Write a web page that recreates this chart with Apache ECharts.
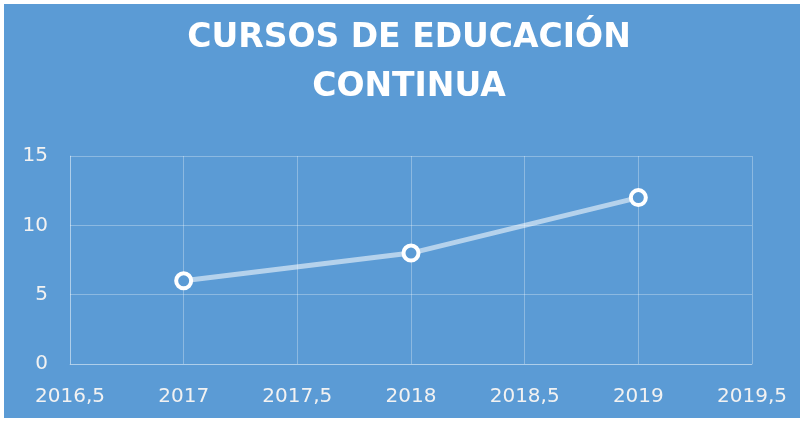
<!DOCTYPE html>
<html>
<head>
<meta charset="utf-8">
<script src="https://cdn.jsdelivr.net/npm/echarts@6/dist/echarts.min.js"></script>
<style>
  html, body { margin: 0; padding: 0; background: #fff; }
  #chart { position: absolute; left: 4px; top: 4px; width: 796px; height: 414px; }
</style>
</head>
<body>
<div id="chart"></div>
<script>
// data
const years = [2017, 2018, 2019];
const courses = [6, 8, 12];
const titleText = 'CURSOS DE EDUCACIÓN\nCONTINUA';

const fmt = v => String(v).replace('.', ',');
const gridColor = 'rgba(255,255,255,0.3)';

const chart = echarts.init(document.getElementById('chart'));
chart.setOption({
  backgroundColor: '#5b9bd5',
  animation: false,
  title: {
    text: titleText,
    left: 400,
    textAlign: 'center',
    top: 5,
    textStyle: {
      color: '#fff',
      fontFamily: 'DejaVu Sans',
      fontWeight: 'bold',
      fontSize: 33,
      lineHeight: 49,
    },
  },
  grid: { left: 66, right: 48, top: 152, bottom: 54 },
  xAxis: {
    type: 'value',
    min: 2016.5,
    max: 2019.5,
    interval: 0.5,
    axisLine: { lineStyle: { color: gridColor } },
    axisTick: { show: false },
    splitLine: { lineStyle: { color: gridColor } },
    axisLabel: {
      color: '#f2f2f2',
      fontFamily: 'DejaVu Sans',
      fontSize: 20,
      margin: 23,
      formatter: fmt,
    },
  },
  yAxis: {
    type: 'value',
    min: 0,
    max: 15,
    interval: 5,
    axisLine: { show: true, lineStyle: { color: gridColor } },
    axisTick: { show: false },
    splitLine: { lineStyle: { color: gridColor } },
    axisLabel: {
      color: '#f2f2f2',
      fontFamily: 'DejaVu Sans',
      fontSize: 20,
      margin: 22,
    },
  },
  series: [
    {
      type: 'line',
      data: years.map((y, i) => [y, courses[i]]),
      lineStyle: { color: 'rgba(255,255,255,0.55)', width: 5 },
      symbol: 'circle',
      symbolSize: 15,
      itemStyle: { color: '#5b9bd5', borderColor: '#fff', borderWidth: 4 },
    },
  ],
});
</script>
</body>
</html>
